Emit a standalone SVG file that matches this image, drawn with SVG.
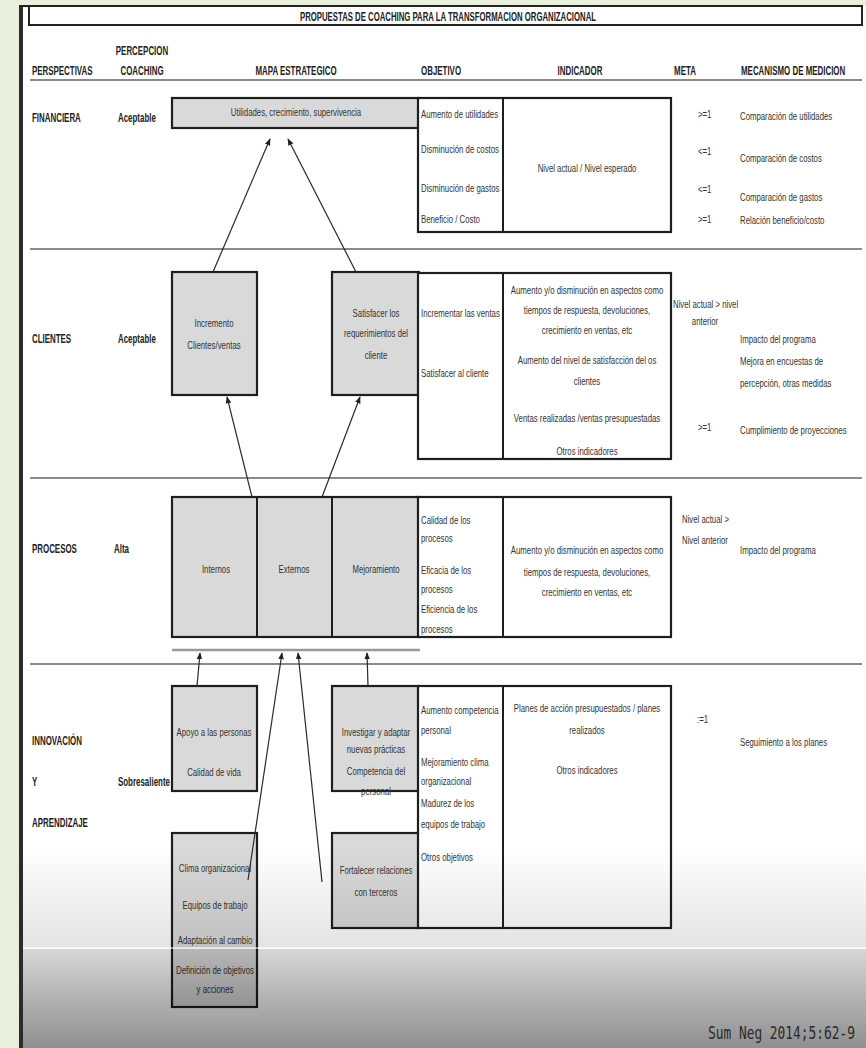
<svg xmlns="http://www.w3.org/2000/svg" width="866" height="1048" viewBox="0 0 866 1048">
<defs>
<style>
.b{font-family:"Liberation Sans",Arial,sans-serif;font-size:11px;fill:#333}
.h{font-family:"Liberation Sans",Arial,sans-serif;font-size:13px;font-weight:bold;fill:#222}
.m{text-anchor:middle}
.box{fill:#d9d9d9;stroke:#1e1e1e;stroke-width:2.2}
.tbl{fill:#fff;stroke:#1e1e1e;stroke-width:2.2}
.div{stroke:#1e1e1e;stroke-width:2}
.sep{stroke:#8a8a8a;stroke-width:2}
.conn{stroke:#2a2a2a;stroke-width:1.2;fill:none;marker-end:url(#ah)}
</style>
<marker id="ah" viewBox="0 0 10 10" refX="9" refY="5" markerWidth="7" markerHeight="7" orient="auto" markerUnits="userSpaceOnUse"><path d="M0,1 L10,5 L0,9 z" fill="#222"/></marker>
<linearGradient id="g1" x1="0" y1="0" x2="0" y2="1"><stop offset="0" stop-color="#000" stop-opacity="0"/><stop offset="1" stop-color="#000" stop-opacity="0.11"/></linearGradient>
<linearGradient id="g2" x1="0" y1="0" x2="0" y2="1"><stop offset="0" stop-color="#000" stop-opacity="0.16"/><stop offset="1" stop-color="#000" stop-opacity="0.44"/></linearGradient>
</defs>

<g id="background">
<rect x="0" y="0" width="866" height="1048" fill="#e8f0dc"/>
<rect x="23" y="6" width="843" height="1042" fill="#fff"/>
<rect x="19" y="5" width="4" height="1043" fill="#2b2b2b"/>
<line x1="19" y1="6" x2="863" y2="6" stroke="#222" stroke-width="2"/>
</g>

<g id="title">
<rect x="29" y="6" width="833" height="19" fill="#fff" stroke="#222" stroke-width="2"/>
<text class="h m" x="448" y="21" font-size="12" textLength="296" lengthAdjust="spacingAndGlyphs">PROPUESTAS DE COACHING PARA LA TRANSFORMACION ORGANIZACIONAL</text>
</g>

<g id="headers">
<text class="h" transform="matrix(.61 0 0 1 32 0)" y="75">PERSPECTIVAS</text>
<text class="h m" transform="matrix(.61 0 0 1 142 0)"><tspan x="0" y="55">PERCEPCION</tspan><tspan x="0" y="75">COACHING</tspan></text>
<text class="h m" transform="matrix(.61 0 0 1 296 0)" y="75">MAPA ESTRATEGICO</text>
<text class="h" transform="matrix(.61 0 0 1 421 0)" y="75">OBJETIVO</text>
<text class="h m" transform="matrix(.61 0 0 1 580 0)" y="75">INDICADOR</text>
<text class="h m" transform="matrix(.61 0 0 1 685 0)" y="75">META</text>
<text class="h" transform="matrix(.61 0 0 1 741 0)" y="75">MECANISMO DE MEDICION</text>
<line class="sep" x1="30" y1="80" x2="862" y2="80"/>
</g>

<g id="separators">
<line class="sep" x1="30" y1="249" x2="862" y2="249"/>
<line class="sep" x1="30" y1="478" x2="862" y2="478"/>
<line class="sep" x1="30" y1="664" x2="862" y2="664"/>
</g>

<g id="row-labels">
<text class="h" transform="matrix(.61 0 0 1 32 0)" y="122">FINANCIERA</text>
<text class="h" transform="matrix(.61 0 0 1 118 0)" y="122">Aceptable</text>
<text class="h" transform="matrix(.61 0 0 1 32 0)" y="343">CLIENTES</text>
<text class="h" transform="matrix(.61 0 0 1 118 0)" y="343">Aceptable</text>
<text class="h" transform="matrix(.61 0 0 1 32 0)" y="553">PROCESOS</text>
<text class="h" transform="matrix(.61 0 0 1 114 0)" y="553">Alta</text>
<text class="h" transform="matrix(.61 0 0 1 32 0)"><tspan x="0" y="745">INNOVACIÓN</tspan><tspan x="0" y="786">Y</tspan><tspan x="0" y="827">APRENDIZAJE</tspan></text>
<text class="h" transform="matrix(.61 0 0 1 118 0)" y="786">Sobresaliente</text>
</g>

<g id="node-utilidades">
<rect class="box" x="172" y="98" width="247" height="30"/>
<text class="b m" transform="matrix(.71 0 0 1 296 0)" y="116">Utilidades, crecimiento, supervivencia</text>
</g>

<g id="table-financiera">
<rect class="tbl" x="418" y="98" width="253" height="134"/>
<line class="div" x1="503" y1="98" x2="503" y2="232"/>
<text class="b" transform="matrix(.71 0 0 1 421 0)"><tspan x="0" y="118">Aumento de utilidades</tspan><tspan x="0" y="153">Disminución de costos</tspan><tspan x="0" y="192">Disminución de gastos</tspan><tspan x="0" y="223">Beneficio / Costo</tspan></text>
<text class="b m" transform="matrix(.71 0 0 1 587 0)" y="172">Nivel actual / Nivel esperado</text>
<text class="b" transform="matrix(.71 0 0 1 698 0)"><tspan x="0" y="118">&gt;=1</tspan><tspan x="0" y="155">&lt;=1</tspan><tspan x="0" y="193">&lt;=1</tspan><tspan x="0" y="223">&gt;=1</tspan></text>
<text class="b" transform="matrix(.71 0 0 1 740 0)"><tspan x="0" y="120">Comparación de utilidades</tspan><tspan x="0" y="162">Comparación de costos</tspan><tspan x="0" y="201">Comparación de gastos</tspan><tspan x="0" y="224">Relación beneficio/costo</tspan></text>
</g>

<g id="node-incremento">
<rect class="box" x="172" y="272" width="85" height="123"/>
<text class="b m" transform="matrix(.71 0 0 1 214 0)"><tspan x="0" y="327">Incremento</tspan><tspan x="0" y="349">Clientes/ventas</tspan></text>
</g>

<g id="node-satisfacer">
<rect class="box" x="332" y="272" width="87" height="123"/>
<text class="b m" transform="matrix(.71 0 0 1 376 0)"><tspan x="0" y="317">Satisfacer los</tspan><tspan x="0" y="337">requerimientos del</tspan><tspan x="0" y="359">cliente</tspan></text>
</g>

<g id="table-clientes">
<rect class="tbl" x="418" y="273" width="253" height="186"/>
<line class="div" x1="503" y1="273" x2="503" y2="459"/>
<text class="b" transform="matrix(.71 0 0 1 421 0)"><tspan x="0" y="317">Incrementar las ventas</tspan><tspan x="0" y="377">Satisfacer al cliente</tspan></text>
<text class="b m" transform="matrix(.71 0 0 1 587 0)"><tspan x="0" y="294">Aumento y/o disminución en aspectos como</tspan><tspan x="0" y="314">tiempos de respuesta, devoluciones,</tspan><tspan x="0" y="334">crecimiento en ventas, etc</tspan><tspan x="0" y="364">Aumento del nivel de satisfacción del os</tspan><tspan x="0" y="385">clientes</tspan><tspan x="0" y="422">Ventas realizadas /ventas presupuestadas</tspan><tspan x="0" y="455">Otros indicadores</tspan></text>
<text class="b" transform="matrix(.71 0 0 1 673 0)" y="308">Nivel actual &gt; nivel</text>
<text class="b m" transform="matrix(.71 0 0 1 705 0)" y="325">anterior</text>
<text class="b" transform="matrix(.71 0 0 1 698 0)" y="431">&gt;=1</text>
<text class="b" transform="matrix(.71 0 0 1 740 0)"><tspan x="0" y="343">Impacto del  programa</tspan><tspan x="0" y="365">Mejora en encuestas de</tspan><tspan x="0" y="387">percepción, otras medidas</tspan><tspan x="0" y="434">Cumplimiento de proyecciones</tspan></text>
</g>

<g id="node-procesos">
<rect class="box" x="172" y="497" width="247" height="140"/>
<line class="div" x1="257" y1="497" x2="257" y2="637"/>
<line class="div" x1="332" y1="497" x2="332" y2="637"/>
<text class="b m" transform="matrix(.71 0 0 1 216 0)" y="573">Internos</text>
<text class="b m" transform="matrix(.71 0 0 1 294 0)" y="573">Externos</text>
<text class="b m" transform="matrix(.71 0 0 1 376 0)" y="573">Mejoramiento</text>
</g>

<g id="bar-procesos">
<line x1="172" y1="650" x2="420" y2="650" stroke="#999" stroke-width="2.5"/>
</g>

<g id="table-procesos">
<rect class="tbl" x="418" y="497" width="253" height="140"/>
<line class="div" x1="503" y1="497" x2="503" y2="637"/>
<text class="b" transform="matrix(.71 0 0 1 421 0)"><tspan x="0" y="524">Calidad de los</tspan><tspan x="0" y="542">procesos</tspan><tspan x="0" y="574">Eficacia de los</tspan><tspan x="0" y="593">procesos</tspan><tspan x="0" y="613">Eficiencia de los</tspan><tspan x="0" y="633">procesos</tspan></text>
<text class="b m" transform="matrix(.71 0 0 1 587 0)"><tspan x="0" y="554">Aumento y/o disminución en aspectos como</tspan><tspan x="0" y="576">tiempos de respuesta, devoluciones,</tspan><tspan x="0" y="596">crecimiento en ventas, etc</tspan></text>
<text class="b" transform="matrix(.71 0 0 1 682 0)"><tspan x="0" y="523">Nivel actual &gt;</tspan><tspan x="0" y="544">Nivel anterior</tspan></text>
<text class="b" transform="matrix(.71 0 0 1 740 0)" y="554">Impacto del  programa</text>
</g>

<g id="node-apoyo">
<rect class="box" x="172" y="686" width="85" height="105"/>
<text class="b m" transform="matrix(.71 0 0 1 214 0)"><tspan x="0" y="736">Apoyo a las personas</tspan><tspan x="0" y="776">Calidad de vida</tspan></text>
</g>

<g id="node-investigar">
<rect class="box" x="332" y="686" width="87" height="105"/>
<text class="b m" transform="matrix(.71 0 0 1 376 0)"><tspan x="0" y="736">Investigar y adaptar</tspan><tspan x="0" y="753">nuevas prácticas</tspan><tspan x="0" y="775">Competencia del</tspan><tspan x="0" y="795">personal</tspan></text>
</g>

<g id="node-clima">
<rect class="box" x="172" y="833" width="85" height="174"/>
<text class="b m" transform="matrix(.71 0 0 1 215 0)"><tspan x="0" y="872">Clima organizacional</tspan><tspan x="0" y="909">Equipos de trabajo</tspan><tspan x="0" y="944">Adaptación al cambio</tspan><tspan x="0" y="974">Definición de objetivos</tspan><tspan x="0" y="993">y acciones</tspan></text>
</g>

<g id="node-fortalecer">
<rect class="box" x="332" y="833" width="87" height="95"/>
<text class="b m" transform="matrix(.71 0 0 1 376 0)"><tspan x="0" y="874">Fortalecer relaciones</tspan><tspan x="0" y="896">con terceros</tspan></text>
</g>

<g id="table-innovacion">
<rect class="tbl" x="418" y="686" width="253" height="242"/>
<line class="div" x1="503" y1="686" x2="503" y2="928"/>
<text class="b" transform="matrix(.71 0 0 1 421 0)"><tspan x="0" y="714">Aumento competencia</tspan><tspan x="0" y="734">personal</tspan><tspan x="0" y="766">Mejoramiento clima</tspan><tspan x="0" y="785">organizacional</tspan><tspan x="0" y="807">Madurez de los</tspan><tspan x="0" y="828">equipos de trabajo</tspan><tspan x="0" y="861">Otros objetivos</tspan></text>
<text class="b m" transform="matrix(.71 0 0 1 587 0)"><tspan x="0" y="712">Planes de acción presupuestados / planes</tspan><tspan x="0" y="734">realizados</tspan><tspan x="0" y="774">Otros indicadores</tspan></text>
<text class="b" transform="matrix(.71 0 0 1 697 0)" y="723">:=1</text>
<text class="b" transform="matrix(.71 0 0 1 740 0)" y="746">Seguimiento a los planes</text>
</g>

<g id="connectors">
<line class="conn" x1="213" y1="272" x2="270" y2="139"/>
<line class="conn" x1="356" y1="272" x2="288" y2="139"/>
<line class="conn" x1="252" y1="497" x2="227" y2="397"/>
<line class="conn" x1="322" y1="497" x2="360" y2="397"/>
<line class="conn" x1="197" y1="686" x2="200" y2="653"/>
<line class="conn" x1="248" y1="880" x2="282" y2="653"/>
<line class="conn" x1="322" y1="882" x2="298" y2="653"/>
<line class="conn" x1="368" y1="686" x2="367" y2="653"/>
</g>

<g id="shading">
<rect x="23" y="845" width="843" height="103" fill="url(#g1)"/>
<rect x="23" y="949" width="843" height="99" fill="url(#g2)"/>
<line x1="23" y1="948" x2="866" y2="948" stroke="#fff" stroke-opacity="0.7" stroke-width="1.5"/>
</g>

<g id="citation">
<text transform="matrix(.714 0 0 1 708 0)" x="0" y="1039" font-family="DejaVu Sans Mono, monospace" font-size="18" fill="#2a2a2a">Sum Neg 2014;5:62-9</text>
</g>
</svg>
